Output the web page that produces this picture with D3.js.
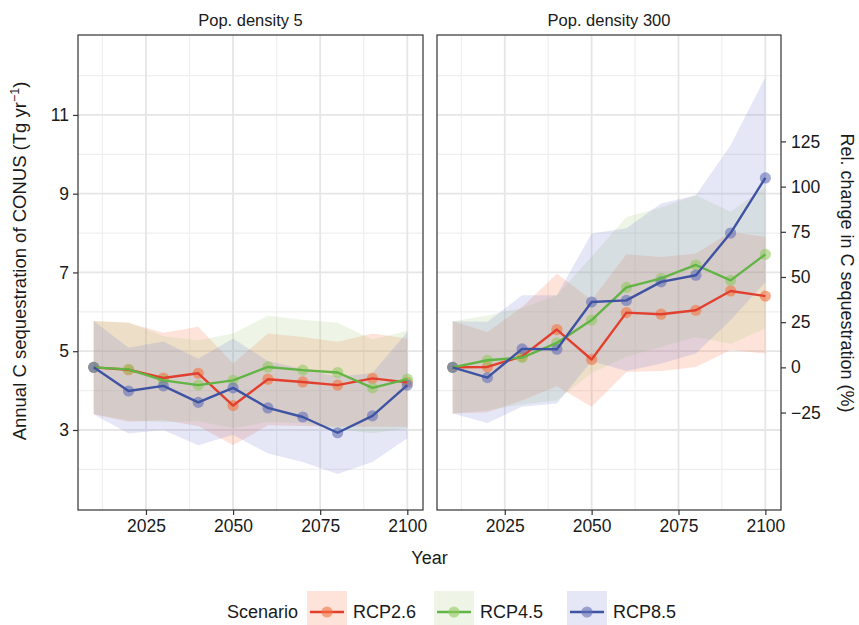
<!DOCTYPE html>
<html><head><meta charset="utf-8">
<script src="https://cdn.jsdelivr.net/npm/d3@7/dist/d3.min.js"></script>
<style>
html,body{margin:0;padding:0;background:#fff;}
svg text{font-family:"Liberation Sans",Arial,Helvetica,sans-serif;fill:#1a1a1a;}
</style></head><body>
<svg id="chart" width="859" height="625"></svg>
<script>
// ---------- data ----------
const years = [2010, 2020, 2030, 2040, 2050, 2060, 2070, 2080, 2090, 2100];
const scenarios = ["RCP2.6", "RCP4.5", "RCP8.5"];
const panels = ["Pop. density 5", "Pop. density 300"];

// Pop. density 5 : means, lower, upper
const rcp26_d5 = [4.59, 4.53, 4.32, 4.44, 3.62, 4.29, 4.22, 4.14, 4.31, 4.21];
const rcp45_d5 = [4.59, 4.54, 4.26, 4.14, 4.26, 4.60, 4.52, 4.46, 4.07, 4.29];
const rcp85_d5 = [4.59, 3.99, 4.12, 3.70, 4.07, 3.56, 3.33, 2.93, 3.36, 4.14];
const rcp26_d5_lo = [3.40, 3.21, 3.25, 3.10, 2.61, 3.12, 3.10, 3.08, 3.08, 3.08];
const rcp26_d5_hi = [5.77, 5.72, 5.47, 5.62, 4.69, 5.45, 5.36, 5.24, 5.45, 5.32];
const rcp45_d5_lo = [3.40, 3.25, 3.20, 3.22, 3.05, 3.20, 3.18, 3.02, 2.92, 3.05];
const rcp45_d5_hi = [5.77, 5.72, 5.38, 5.28, 5.45, 5.90, 5.80, 5.72, 5.30, 5.52];
const rcp85_d5_lo = [3.40, 2.91, 3.00, 2.61, 2.88, 2.40, 2.19, 1.88, 2.19, 2.79];
const rcp85_d5_hi = [5.77, 5.09, 5.25, 4.81, 5.32, 4.75, 4.55, 4.35, 4.45, 5.49];

// Pop. density 300 : means, lower, upper
const rcp26_d300 = [4.59, 4.60, 4.87, 5.55, 4.79, 5.98, 5.94, 6.04, 6.53, 6.40];
const rcp45_d300 = [4.59, 4.77, 4.84, 5.21, 5.79, 6.62, 6.85, 7.19, 6.80, 7.46];
const rcp85_d300 = [4.59, 4.33, 5.06, 5.05, 6.25, 6.29, 6.76, 6.93, 8.00, 9.40];
const rcp26_d300_lo = [3.42, 3.45, 3.75, 4.11, 3.59, 4.47, 4.50, 4.60, 5.03, 4.94];
const rcp26_d300_hi = [5.76, 5.49, 6.12, 6.97, 6.30, 7.46, 7.39, 7.48, 8.03, 7.90];
const rcp45_d300_lo = [3.42, 3.50, 3.65, 3.75, 4.45, 4.86, 5.11, 5.36, 5.19, 5.58];
const rcp45_d300_hi = [5.76, 5.91, 6.10, 6.42, 7.40, 8.41, 8.65, 8.96, 8.54, 9.17];
const rcp85_d300_lo = [3.42, 3.18, 3.59, 3.67, 4.75, 4.50, 4.69, 4.94, 5.79, 6.76];
const rcp85_d300_hi = [5.76, 5.75, 6.42, 6.42, 7.99, 8.12, 8.75, 8.96, 10.23, 11.96];

const xTicks = [2025, 2050, 2075, 2100];
const xMinor = [2012.5, 2037.5, 2062.5, 2087.5];
const yTicks = [3, 5, 7, 9, 11];
const yMinor = [2, 4, 6, 8, 10, 12];
const relTicks = [-25, 0, 25, 50, 75, 100, 125];
const relBase = 4.59;

// ---------- style ----------
const lineColors = {"RCP2.6": "#E2402E", "RCP4.5": "#62B446", "RCP8.5": "#3F53A3"};
const fillColors = {"RCP2.6": "#F4733F", "RCP4.5": "#A8CE80", "RCP8.5": "#7F84D0"};
const pointColors = {"RCP2.6": "#F4733F", "RCP4.5": "#93C962", "RCP8.5": "#6470B8"};
const ribbonOpacity = 0.2, pointOpacity = 0.6;

const seriesByPanel = [
  [
    {s: "RCP2.6", m: rcp26_d5, lo: rcp26_d5_lo, hi: rcp26_d5_hi},
    {s: "RCP4.5", m: rcp45_d5, lo: rcp45_d5_lo, hi: rcp45_d5_hi},
    {s: "RCP8.5", m: rcp85_d5, lo: rcp85_d5_lo, hi: rcp85_d5_hi}
  ],
  [
    {s: "RCP2.6", m: rcp26_d300, lo: rcp26_d300_lo, hi: rcp26_d300_hi},
    {s: "RCP4.5", m: rcp45_d300, lo: rcp45_d300_lo, hi: rcp45_d300_hi},
    {s: "RCP8.5", m: rcp85_d300, lo: rcp85_d300_lo, hi: rcp85_d300_hi}
  ]
];

const svg = d3.select("#chart");
const panelX = [[78, 423], [437, 781]];
const pTop = 35, pBottom = 510;
const yDom = [0.968, 13.03];
const y = d3.scaleLinear().domain(yDom).range([pBottom, pTop]);
const yRel = d3.scaleLinear()
  .domain(yDom.map(v => (v / relBase - 1) * 100))
  .range([pBottom, pTop]);

panels.forEach((title, pi) => {
  const [x0, x1] = panelX[pi];
  const x = d3.scaleLinear().domain([2005.5, 2104.5]).range([x0, x1]);
  const g = svg.append("g");

  // grid
  g.selectAll(".ymin").data(yMinor).join("line")
    .attr("x1", x0).attr("x2", x1).attr("y1", d => y(d)).attr("y2", d => y(d))
    .attr("stroke", "#EFEFEF").attr("stroke-width", 1.2);
  g.selectAll(".xmin").data(xMinor).join("line")
    .attr("y1", pTop).attr("y2", pBottom).attr("x1", d => x(d)).attr("x2", d => x(d))
    .attr("stroke", "#EFEFEF").attr("stroke-width", 1.2);
  g.selectAll(".ymaj").data(yTicks).join("line")
    .attr("x1", x0).attr("x2", x1).attr("y1", d => y(d)).attr("y2", d => y(d))
    .attr("stroke", "#E6E6E6").attr("stroke-width", 1.8);
  g.selectAll(".xmaj").data(xTicks).join("line")
    .attr("y1", pTop).attr("y2", pBottom).attr("x1", d => x(d)).attr("x2", d => x(d))
    .attr("stroke", "#E6E6E6").attr("stroke-width", 1.8);

  const series = seriesByPanel[pi];
  const area = d3.area().x((d, i) => x(years[i])).y0(d => y(d[0])).y1(d => y(d[1]));
  const line = d3.line().x((d, i) => x(years[i])).y(d => y(d));

  // ribbons
  series.forEach(sr => {
    g.append("path")
      .datum(sr.lo.map((v, i) => [v, sr.hi[i]]))
      .attr("d", area)
      .attr("fill", fillColors[sr.s]).attr("fill-opacity", ribbonOpacity);
  });
  // points
  series.forEach(sr => {
    g.selectAll(null).data(sr.m).join("circle")
      .attr("cx", (d, i) => x(years[i])).attr("cy", d => y(d)).attr("r", 5.6)
      .attr("fill", pointColors[sr.s]).attr("fill-opacity", pointOpacity);
  });
  // lines
  series.forEach(sr => {
    g.append("path").datum(sr.m).attr("d", line)
      .attr("fill", "none").attr("stroke", lineColors[sr.s]).attr("stroke-width", 2.4)
      .attr("stroke-linejoin", "round");
  });

  // border
  g.append("rect").attr("x", x0).attr("y", pTop).attr("width", x1 - x0).attr("height", pBottom - pTop)
    .attr("fill", "none").attr("stroke", "#333").attr("stroke-width", 1.2);

  // strip
  svg.append("text").attr("x", (x0 + x1) / 2).attr("y", 26).attr("text-anchor", "middle")
    .attr("font-size", 16.5).text(title);

  // x axis
  const xa = svg.append("g").attr("transform", `translate(0,${pBottom})`)
    .call(d3.axisBottom(x).tickValues(xTicks).tickFormat(d3.format("d")).tickSize(5).tickPadding(5));
  xa.select(".domain").remove();
  xa.selectAll(".tick line").attr("stroke", "#333").attr("stroke-width", 1.2);
  xa.selectAll(".tick text").attr("font-size", 17.5).attr("fill", "#1a1a1a")
    .attr("font-family", '"Liberation Sans",Arial,sans-serif');

  if (pi === 0) {
    const ya = svg.append("g").attr("transform", `translate(${x0},0)`)
      .call(d3.axisLeft(y).tickValues(yTicks).tickSize(5).tickPadding(4));
    ya.select(".domain").remove();
    ya.selectAll(".tick line").attr("stroke", "#333").attr("stroke-width", 1.2);
    ya.selectAll(".tick text").attr("font-size", 17.5).attr("fill", "#1a1a1a")
      .attr("font-family", '"Liberation Sans",Arial,sans-serif');
  } else {
    const ya = svg.append("g").attr("transform", `translate(${x1},0)`)
      .call(d3.axisRight(yRel).tickValues(relTicks).tickSize(5).tickPadding(5)
        .tickFormat(d => d < 0 ? "\u2212" + Math.abs(d) : d));
    ya.select(".domain").remove();
    ya.selectAll(".tick line").attr("stroke", "#333").attr("stroke-width", 1.2);
    ya.selectAll(".tick text").attr("font-size", 17.5).attr("fill", "#1a1a1a")
      .attr("font-family", '"Liberation Sans",Arial,sans-serif');
  }
});

// axis titles
svg.append("text").attr("x", 429.5).attr("y", 564).attr("text-anchor", "middle")
  .attr("font-size", 18).text("Year");

const yt = svg.append("text").attr("transform", "translate(26,261) rotate(-90)")
  .attr("text-anchor", "middle").attr("font-size", 18.5);
yt.append("tspan").text("Annual C sequestration of CONUS (Tg yr");
yt.append("tspan").attr("dy", -7).attr("font-size", 12.5).text("\u22121");
yt.append("tspan").attr("dy", 7).text(")");

svg.append("text").attr("transform", "translate(841,273) rotate(90)")
  .attr("text-anchor", "middle").attr("font-size", 18).text("Rel. change in C sequestration (%)");

// legend
const legend = svg.append("g");
legend.append("text").attr("x", 227).attr("y", 618).attr("font-size", 18).text("Scenario");
const keyX = [307, 434, 567];
scenarios.forEach((s, i) => {
  const kx = keyX[i];
  legend.append("rect").attr("x", kx).attr("y", 591).attr("width", 40).attr("height", 34)
    .attr("fill", fillColors[s]).attr("fill-opacity", ribbonOpacity);
  legend.append("line").attr("x1", kx + 3).attr("x2", kx + 37).attr("y1", 612).attr("y2", 612)
    .attr("stroke", lineColors[s]).attr("stroke-width", 2.4);
  legend.append("circle").attr("cx", kx + 20).attr("cy", 612).attr("r", 5.6)
    .attr("fill", pointColors[s]).attr("fill-opacity", pointOpacity);
  legend.append("text").attr("x", kx + 46).attr("y", 618).attr("font-size", 18).text(s);
});
</script>
</body></html>
